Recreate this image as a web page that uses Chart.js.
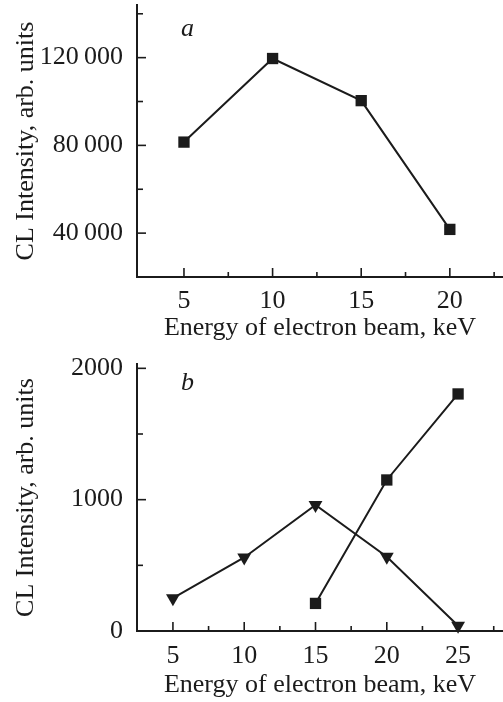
<!DOCTYPE html>
<html>
<head>
<meta charset="utf-8">
<script src="https://cdn.jsdelivr.net/npm/chart.js@4.4.1/dist/chart.umd.min.js"></script>
<style>
  body { margin:0; background:#fff; width:503px; height:702px; overflow:hidden; position:relative; }
  canvas { position:absolute; left:0; }
  .panel-tag { position:absolute; font-family:"Liberation Serif", serif; font-style:italic; font-size:26px; line-height:1; color:#1b1b1b; }
</style>
</head>
<body>
<canvas id="chartA" width="503" height="351" style="top:0"></canvas>
<canvas id="chartB" width="503" height="351" style="top:351px"></canvas>
<div class="panel-tag" style="left:181px;top:15px">a</div>
<div class="panel-tag" style="left:181px;top:369px">b</div>
<script>
// panel a
const energyA = [5, 10, 15, 20];
const intensityA = [81500, 119600, 100400, 41700];
const xTicksA = [5, 7.5, 10, 12.5, 15, 17.5, 20, 22.5];
const yTicksA = [40000, 60000, 80000, 100000, 120000, 140000];

// panel b
const energySquares = [15, 20, 25];
const intensitySquares = [210, 1150, 1805];
const energyTriangles = [5, 10, 15, 20, 25];
const intensityTriangles = [250, 560, 960, 565, 40];
const xTicksB = [5, 7.5, 10, 12.5, 15, 17.5, 20, 22.5, 25, 27.5];
const yTicksB = [0, 500, 1000, 1500, 2000];

const INK = "#1b1b1b";
const FONT = "'Liberation Serif', 'Times New Roman', serif";
const X_TITLE = "Energy of electron beam, keV";
const Y_TITLE = "CL Intensity, arb. units";

function pts(xs, ys){ return xs.map((x,i)=>({x, y: ys[i]})); }

function fmtThousands(v){
  const s = String(v);
  return s.length > 4 ? s.slice(0, -3) + "\u2009" + s.slice(-3) : s;
}

// inward tick marks, longer on labelled values
const tickMarks = {
  id: "tickMarks",
  beforeDatasetsDraw(chart, args, opts){
    const ctx = chart.ctx, area = chart.chartArea;
    const xs = chart.scales.x, ys = chart.scales.y;
    ctx.save();
    ctx.strokeStyle = INK;
    ctx.lineWidth = 1.6;
    xs.ticks.forEach(t=>{
      const px = xs.getPixelForValue(t.value);
      if(px < area.left + 4 || px > area.right - 2) return;
      const len = Math.abs(t.value % opts.xMajor) < 1e-6 ? 9 : 5;
      ctx.beginPath(); ctx.moveTo(px, area.bottom); ctx.lineTo(px, area.bottom - len); ctx.stroke();
    });
    ys.ticks.forEach(t=>{
      const py = ys.getPixelForValue(t.value);
      if(py > area.bottom - 4 || py < area.top + 2) return;
      const len = Math.abs(t.value % opts.yMajor) < 1e-6 ? 9 : 6;
      ctx.beginPath(); ctx.moveTo(area.left, py); ctx.lineTo(area.left + len, py); ctx.stroke();
    });
    ctx.restore();
  }
};

function zeroPad(s){ s.paddingTop = 0; s.paddingBottom = 0; s.paddingLeft = 0; s.paddingRight = 0; }

function makeChart(id, datasets, cfg){
  return new Chart(document.getElementById(id), {
    type: "scatter",
    data: { datasets },
    options: {
      responsive: false,
      animation: false,
      layout: { autoPadding: false, padding: { top: cfg.top, left: 0, right: 0, bottom: 0 } },
      plugins: { legend: { display: false }, tooltip: { enabled: false }, tickMarks: { xMajor: 5, yMajor: cfg.yMajor } },
      scales: {
        x: {
          type: "linear", min: cfg.xMin, max: cfg.xMax,
          grid: { display: false, drawTicks: false },
          border: { display: true, color: INK, width: 2 },
          afterBuildTicks: s => { s.ticks = cfg.xTicks.map(v => ({ value: v })); },
          ticks: {
            autoSkip: false, padding: cfg.xPad, color: INK,
            font: { family: FONT, size: 26 }, maxRotation: 0,
            callback: v => (Math.abs(v % 5) < 1e-6 ? String(v) : "")
          },
          title: { display: true, text: X_TITLE, color: INK, font: { family: FONT, size: 26 }, padding: { top: 0, bottom: cfg.xTitlePad } },
          afterFit: s => { s.height = cfg.xHeight; zeroPad(s); }
        },
        y: {
          type: "linear", min: cfg.yMin, max: cfg.yMax,
          grid: { display: false, drawTicks: false },
          border: { display: true, color: INK, width: 2 },
          afterBuildTicks: s => { s.ticks = cfg.yTicks.map(v => ({ value: v })); },
          ticks: {
            autoSkip: false, padding: 14, color: INK,
            font: { family: FONT, size: 26 },
            callback: v => (v % cfg.yMajor === 0 ? fmtThousands(v) : "")
          },
          title: { display: true, text: Y_TITLE, color: INK, font: { family: FONT, size: 26 }, padding: { top: 10.6, bottom: 0 } },
          afterFit: s => { s.width = 137; zeroPad(s); }
        }
      }
    },
    plugins: [tickMarks]
  });
}

function series(xs, ys, style, rotation){
  return {
    data: pts(xs, ys), showLine: true, clip: false,
    borderColor: INK, borderWidth: 2, backgroundColor: INK,
    pointStyle: style, rotation: rotation || 0, pointRadius: 8, pointBorderWidth: 0,
    pointBackgroundColor: INK
  };
}

makeChart("chartA", [series(energyA, intensityA, "rect")], {
  top: 5, xHeight: 74, xMin: 2.35, xMax: 23.0, xPad: 8.9, xTitlePad: 7.2,
  yMin: 20000, yMax: 144000, yMajor: 40000, xTicks: xTicksA, yTicks: yTicksA
});

makeChart("chartB", [
  series(energySquares, intensitySquares, "rect"),
  series(energyTriangles, intensityTriangles, "triangle", 180)
], {
  top: 13, xHeight: 71, xMin: 2.48, xMax: 28.15, xPad: 9.9, xTitlePad: 0.9,
  yMin: 0, yMax: 2033, yMajor: 1000, xTicks: xTicksB, yTicks: yTicksB
});
</script>
</body>
</html>
